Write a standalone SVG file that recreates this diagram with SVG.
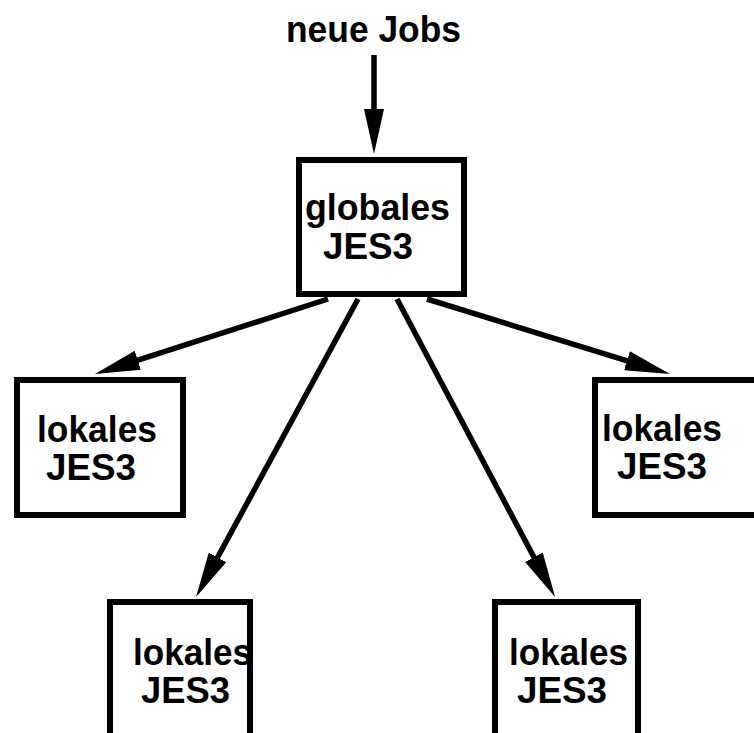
<svg xmlns="http://www.w3.org/2000/svg" width="754" height="733" viewBox="0 0 754 733">
<defs>
<style>
.box{fill:#fff;stroke:#000;stroke-width:6}
.lbl{font-family:"Liberation Sans",Arial,sans-serif;font-weight:bold;font-size:37px;fill:#000}
.con{stroke:#000;stroke-width:5.5;fill:none;marker-end:url(#ah)}
</style>
<marker id="ah" markerUnits="userSpaceOnUse" markerWidth="45" markerHeight="20" viewBox="0 0 45 20" refX="8" refY="10" orient="auto">
<path d="M0,0 L45,10 L0,20 Z" fill="#000"/>
</marker>
</defs>
<rect width="754" height="733" fill="#fff"/>
<g id="input"><text class="lbl" x="286" y="42" textLength="175" lengthAdjust="spacingAndGlyphs">neue Jobs</text></g>
<g id="global"><rect class="box" x="299" y="160" width="165" height="134"/><text class="lbl" x="305" y="220" textLength="145" lengthAdjust="spacingAndGlyphs">globales</text><text class="lbl" x="323" y="259" textLength="90" lengthAdjust="spacingAndGlyphs">JES3</text></g>
<g id="local1"><rect class="box" x="17" y="380" width="166" height="135"/><text class="lbl" x="37" y="442" textLength="120" lengthAdjust="spacingAndGlyphs">lokales</text><text class="lbl" x="46" y="480" textLength="90" lengthAdjust="spacingAndGlyphs">JES3</text></g>
<g id="local2"><rect class="box" x="595" y="380" width="170" height="135"/><text class="lbl" x="602" y="441" textLength="120" lengthAdjust="spacingAndGlyphs">lokales</text><text class="lbl" x="617" y="479" textLength="90" lengthAdjust="spacingAndGlyphs">JES3</text></g>
<g id="local3"><rect class="box" x="110" y="602" width="140" height="150"/><text class="lbl" x="133" y="665" textLength="119" lengthAdjust="spacingAndGlyphs">lokales</text><text class="lbl" x="141" y="703" textLength="89" lengthAdjust="spacingAndGlyphs">JES3</text></g>
<g id="local4"><rect class="box" x="495" y="602" width="143" height="150"/><text class="lbl" x="509" y="665" textLength="119" lengthAdjust="spacingAndGlyphs">lokales</text><text class="lbl" x="517" y="703" textLength="90" lengthAdjust="spacingAndGlyphs">JES3</text></g>
<g id="connectors">
<line class="con" x1="374" y1="55" x2="374" y2="117"/>
<line class="con" x1="328" y1="299" x2="130.2" y2="362.7"/>
<line class="con" x1="358" y1="299" x2="213.7" y2="564.5"/>
<line class="con" x1="397" y1="299" x2="537.7" y2="564.3"/>
<line class="con" x1="427" y1="299" x2="634.6" y2="363.1"/>
</g>
</svg>
